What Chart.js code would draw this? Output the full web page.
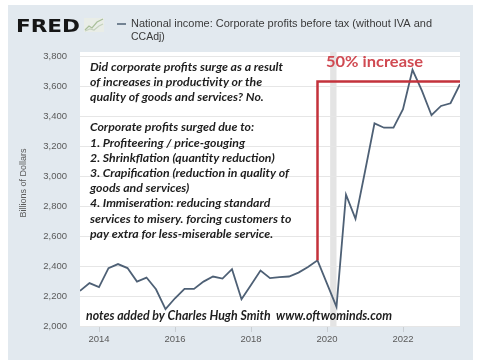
<!DOCTYPE html>
<html>
<head>
<meta charset="utf-8">
<script src="https://cdn.jsdelivr.net/npm/chart.js@4"></script>
<style>
  html, body { margin: 0; padding: 0; background: #ffffff; }
  #wrap { position: relative; width: 480px; height: 360px; }
</style>
</head>
<body>
<div id="wrap"><canvas id="c" width="480" height="360"></canvas></div>
<script>
// ---- data ----
const startYear = 2013.5;           // first quarter (2013 Q3)
const profits = [
  2234, 2286, 2259, 2386, 2413, 2386, 2296, 2323, 2245, 2112,
  2185, 2247, 2247, 2296, 2330, 2316, 2379, 2179, 2274, 2370,
  2319, 2326, 2330, 2356, 2393, 2438, 2282, 2127, 2876, 2714,
  3030, 3351, 3322, 3322, 3445, 3708, 3567, 3405, 3467, 3485,
  3612
];
const xTicks = [2014, 2016, 2018, 2020, 2022];
const yTicks = [2000, 2200, 2400, 2600, 2800, 3000, 3200, 3400, 3600, 3800];
const recession = [2020.083, 2020.25];
const increaseLevel = 3630;
const peakBefore = { x: 2019.75, y: 2438 };
const seriesTitle = ['National income: Corporate profits before tax (without IVA and', 'CCAdj)'];
const noteLines = [
  'Did corporate profits surge as a result',
  'of increases in productivity or the',
  'quality of goods and services? No.',
  '',
  'Corporate profits surged due to:',
  '1. Profiteering / price-gouging',
  '2. Shrinkflation (quantity reduction)',
  '3. Crapification (reduction in quality of',
  'goods and services)',
  '4. Immiseration: reducing standard',
  'services to misery. forcing customers to',
  'pay extra for less-miserable service.'
];
const creditText = 'notes added by Charles Hugh Smith  www.oftwominds.com';
const increaseText = '50% increase';
const yAxisTitle = 'Billions of Dollars';

const points = profits.map((v, i) => ({ x: startYear + i * 0.25, y: v }));
const redPath = [peakBefore, { x: peakBefore.x, y: increaseLevel }, { x: 2023.5, y: increaseLevel }];

function fitText(ctx, text, x, y, width) {
  const w = ctx.measureText(text).width;
  ctx.save();
  ctx.translate(x, y);
  ctx.scale(width / w, 1);
  ctx.fillText(text, 0, 0);
  ctx.restore();
}

const decor = {
  id: 'decor',
  beforeDraw(chart) {
    const ctx = chart.ctx;
    const a = chart.chartArea;
    ctx.save();
    ctx.fillStyle = '#ffffff';
    ctx.fillRect(0, 0, 480, 360);
    ctx.fillStyle = '#e2e9ef';
    ctx.fillRect(8, 5, 465, 355);
    ctx.fillStyle = '#ffffff';
    ctx.fillRect(a.left, a.top - 4, a.right - a.left, a.bottom - a.top + 4);
    // recession shading
    const xs = chart.scales.x;
    const x0 = xs.getPixelForValue(recession[0]);
    const x1 = xs.getPixelForValue(recession[1]);
    ctx.fillStyle = '#e4e4e4';
    ctx.fillRect(x0, a.top - 4, x1 - x0, a.bottom - a.top + 4);
    ctx.restore();
  },
  afterDraw(chart) {
    const ctx = chart.ctx;
    ctx.save();
    // FRED logo
    ctx.fillStyle = '#161616';
    ctx.font = 'bold 18.5px "DejaVu Sans", sans-serif';
    ctx.textBaseline = 'alphabetic';
    ctx.textAlign = 'left';
    fitText(ctx, 'FRED', 16, 31.5, 64);
    // small icon
    ctx.fillStyle = '#e9ede7';
    ctx.fillRect(84, 18, 20, 14);
    ctx.strokeStyle = '#a9bf9a';
    ctx.lineWidth = 1.2;
    ctx.beginPath();
    ctx.moveTo(85, 30); ctx.lineTo(89, 26); ctx.lineTo(92, 28); ctx.lineTo(97, 22); ctx.lineTo(103, 19);
    ctx.stroke();
    ctx.strokeStyle = '#c5d2bd';
    ctx.beginPath();
    ctx.moveTo(85, 31); ctx.lineTo(90, 29); ctx.lineTo(94, 30); ctx.lineTo(99, 26); ctx.lineTo(103, 24);
    ctx.stroke();
    // legend dash + title
    ctx.strokeStyle = '#4e6075';
    ctx.lineWidth = 1.5;
    ctx.beginPath();
    ctx.moveTo(117, 24); ctx.lineTo(126, 24);
    ctx.stroke();
    ctx.fillStyle = '#3a3a3a';
    ctx.font = '10.5px "Liberation Sans", Arial, sans-serif';
    ctx.textBaseline = 'middle';
    fitText(ctx, seriesTitle[0], 131, 24, 301);
    ctx.fillText(seriesTitle[1], 131, 37);
    // y axis title
    ctx.save();
    ctx.translate(23.5, 183);
    ctx.rotate(-Math.PI / 2);
    ctx.textAlign = 'center';
    ctx.fillStyle = '#5a5a5a';
    ctx.font = '9px "Liberation Sans", Arial, sans-serif';
    ctx.fillText(yAxisTitle, 0, 0);
    ctx.restore();
    // annotation paragraph
    ctx.fillStyle = '#1e1e1e';
    ctx.font = 'italic bold 12px Lato, "Open Sans", sans-serif';
    ctx.textAlign = 'left';
    ctx.textBaseline = 'middle';
    const s = 193 / ctx.measureText(noteLines[0]).width;
    noteLines.forEach((t, i) => {
      if (!t) return;
      ctx.save();
      ctx.translate(90, 66.7 + i * 15.2);
      ctx.scale(s, 1);
      ctx.fillText(t, 0, 0);
      ctx.restore();
    });
    // credit
    ctx.font = 'italic bold 13px Lato, "Open Sans", sans-serif';
    fitText(ctx, creditText, 86, 315.7, 306);
    // 50% increase
    ctx.fillStyle = '#d04a52';
    ctx.font = 'bold 15px Lato, "Open Sans", sans-serif';
    fitText(ctx, increaseText, 326, 62.5, 97);
    ctx.restore();
  }
};

new Chart(document.getElementById('c'), {
  type: 'line',
  data: {
    datasets: [
      {
        data: redPath,
        borderColor: '#c3323b',
        borderWidth: 2.5,
        pointRadius: 0,
        tension: 0,
        fill: false,
        order: 0
      },
      {
        data: points,
        borderColor: '#4e6075',
        borderWidth: 1.8,
        pointRadius: 0,
        tension: 0,
        fill: false,
        order: 1
      }
    ]
  },
  options: {
    responsive: false,
    animation: false,
    events: [],
    layout: { padding: { left: 0, right: 20, top: 56, bottom: 0 } },
    plugins: { legend: { display: false }, tooltip: { enabled: false }, title: { display: false } },
    scales: {
      x: {
        type: 'linear',
        min: 2013.5,
        max: 2023.5,
        afterBuildTicks(scale) { scale.ticks = xTicks.map(v => ({ value: v })); },
        afterFit(scale) { scale.height = 34; },
        border: { display: false },
        grid: { display: true, drawOnChartArea: false, drawTicks: true, tickLength: 6, color: '#c9ced3' },
        ticks: {
          color: '#5a5a5a',
          font: { family: '"Liberation Sans", Arial, sans-serif', size: 9.5 },
          padding: 2,
          maxRotation: 0,
          callback: v => String(v)
        }
      },
      y: {
        min: 2000,
        max: 3800,
        afterBuildTicks(scale) { scale.ticks = yTicks.map(v => ({ value: v })); },
        afterFit(scale) { scale.width = 80; },
        border: { display: false },
        grid: { color: '#e6e6e6', drawTicks: false, lineWidth: 1 },
        ticks: {
          color: '#5a5a5a',
          font: { family: '"Liberation Sans", Arial, sans-serif', size: 9.5 },
          padding: 13,
          callback: v => v.toLocaleString('en-US')
        }
      }
    }
  },
  plugins: [decor]
});
</script>
</body>
</html>
